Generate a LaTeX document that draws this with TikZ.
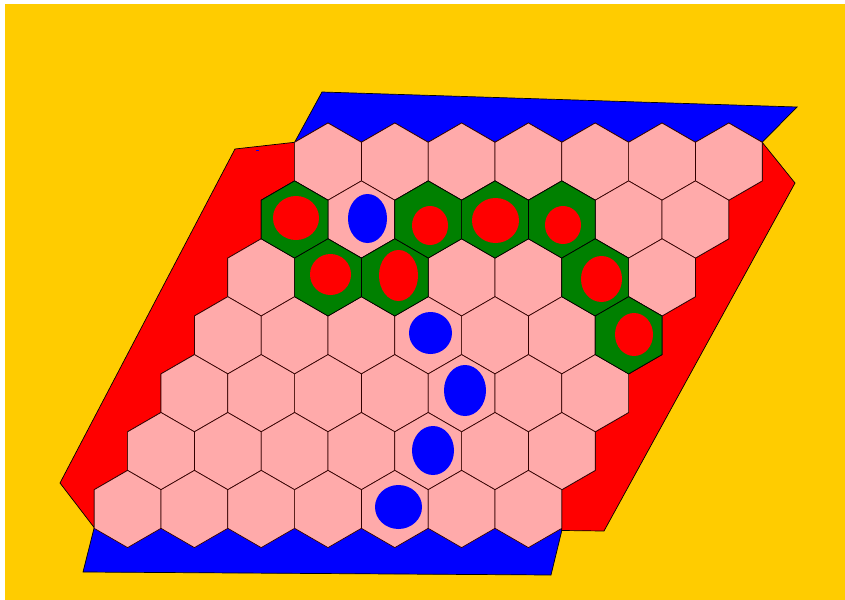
\documentclass[tikz,border=0pt]{standalone}
\usepackage{tikz}
\definecolor{bgyellow}{RGB}{255,204,0}
\definecolor{cellpink}{RGB}{255,170,170}
\definecolor{cellgreen}{RGB}{0,128,0}
\definecolor{sidered}{RGB}{255,0,0}
\definecolor{sideblue}{RGB}{0,0,255}
\tikzset{
  hexcell/.style={fill=cellpink,draw=black!80!red,line width=0.7pt,line join=miter},
  greencell/.style={fill=cellgreen,draw=black,line width=0.7pt,line join=miter},
  redside/.style={fill=sidered,draw=black,line width=0.7pt},
  blueside/.style={fill=sideblue,draw=black,line width=0.7pt},
  redstone/.style={fill=sidered},
  bluestone/.style={fill=sideblue}
}
\begin{document}
\begin{tikzpicture}[x=1pt,y=-1pt]
\useasboundingbox (0,0) rectangle (845,599);
\fill[white] (0,0) rectangle (845,599);
\fill[bgyellow] (5,4) rectangle (852,606);
% top blue side
\path[blueside] (322,92) -- (797,107) -- (762.2,142.3)
  \foreach \c in {6,...,0} { -- (328+66.8*\c,123) -- (294.6+66.8*\c,142.3) } -- cycle;
% bottom blue side
\path[blueside] (94.2,527.6) -- (83,572) -- (551,575) -- (561.8,530.5)
  \foreach \c in {6,...,0} { -- (161+66.8*\c,527.6) -- (127.6+66.8*\c,546.9) } -- (94.2,527.6) -- cycle;
% left red side
\path[redside] (294.6,142.3) -- (235,149) -- (60,483) -- (94.2,527.6)
  \foreach \r in {6,...,0} { -- (294.6-33.4*\r,180.9+57.9*\r) -- (294.6-33.4*\r,142.3+57.9*\r) } -- cycle;
% right red side
\path[redside] (762.2,142.3) -- (795,183) -- (604,531) -- (561.8,530.5)
  \foreach \r in {6,...,0} { -- (762.2-33.4*\r,180.9+57.9*\r) -- (762.2-33.4*\r,142.3+57.9*\r) } -- cycle;
\fill[sideblue] (256,149.5) rectangle (259,151);
% cells
\foreach \r in {0,...,6} {
  \foreach \c in {0,...,6} {
    \pgfmathsetmacro\hx{328+66.8*\c-33.4*\r}
    \pgfmathsetmacro\hy{161.6+57.9*\r}
    \draw[hexcell] (\hx,\hy) ++(0,-38.6) -- ++(33.4,19.3) -- ++(0,38.6) -- ++(-33.4,19.3) -- ++(-33.4,-19.3) -- ++(0,-38.6) -- cycle;
  }
}
\foreach \r/\c in {1/0,1/2,1/3,1/4,2/1,2/2,2/5,3/6} {
  \pgfmathsetmacro\hx{328+66.8*\c-33.4*\r}
  \pgfmathsetmacro\hy{161.6+57.9*\r}
  \draw[greencell] (\hx,\hy) ++(0,-38.6) -- ++(33.4,19.3) -- ++(0,38.6) -- ++(-33.4,19.3) -- ++(-33.4,-19.3) -- ++(0,-38.6) -- cycle;
}
% red stones
\foreach \x/\y/\a/\b in {296/218/23/22, 430/225.5/18/19.5, 495.5/220.5/23.5/22.5, 563/225/18/19,
  330.5/274.5/20.5/20.5, 398.5/275.5/19.5/25.5, 601.5/279/20.5/23, 634/334.5/19/21.5} {
  \fill[redstone] (\x,\y) ellipse [x radius=\a, y radius=\b];
}
% blue stones
\foreach \x/\y/\a/\b in {367.5/218.5/19.5/24.5, 430.5/333/21.5/21, 465/390.5/21/25.5,
  433/450.5/21/24.5, 398.5/507/23.5/22} {
  \fill[bluestone] (\x,\y) ellipse [x radius=\a, y radius=\b];
}
\end{tikzpicture}
\end{document}
